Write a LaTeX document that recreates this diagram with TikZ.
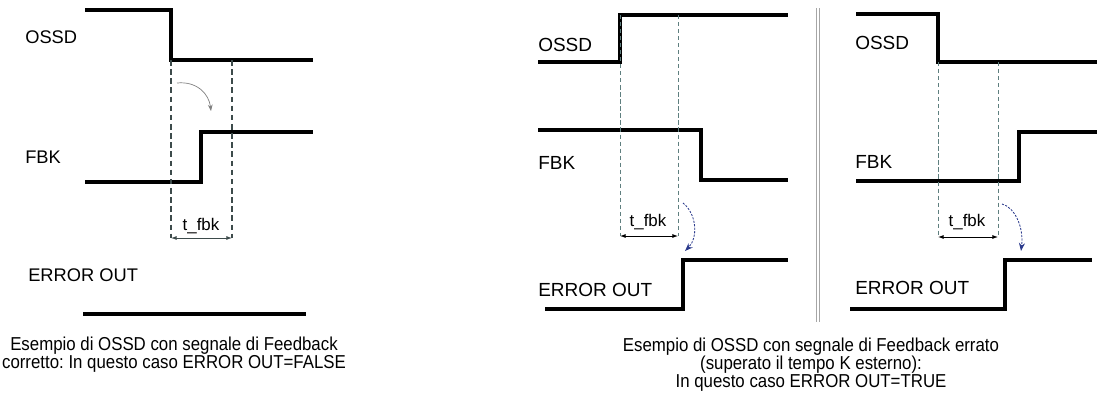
\documentclass[tikz,border=0pt]{standalone}
\usepackage{fontspec}
\setmainfont{Liberation Sans}
\newfontfamily\capfont[FakeStretch=0.9]{Liberation Sans}
\usepackage{xcolor}
\usepackage{tikz}
\usetikzlibrary{arrows.meta,positioning}
\frenchspacing

\definecolor{guidegray}{HTML}{3D4B4B}
\definecolor{guideteal}{HTML}{5F7F7F}
\definecolor{flownavy}{HTML}{2B3A8C}

\begin{document}
\begin{tikzpicture}[x=0.025cm, y=-0.025cm,
  sigline/.style={line width=2.3pt, line join=miter},
  guideA/.style={draw=guidegray, line width=0.8pt, dash pattern=on 4pt off 2.5pt},
  guideB/.style={draw=guideteal, line width=0.6pt, dash pattern=on 3pt off 2pt},
  tdim/.style={line width=0.6pt, {Latex[length=1.4mm,width=1mm]}-{Latex[length=1.4mm,width=1mm]}},
  lbl/.style={anchor=west, inner sep=0pt, font=\fontsize{13}{15}\selectfont},
  lblB/.style={anchor=west, inner sep=0pt, font=\fontsize{13.5}{16}\selectfont},
  tlbl/.style={inner sep=0pt, font=\fontsize{12}{14}\selectfont},
  caption/.style={inner sep=0pt, align=center, font=\capfont\fontsize{13.3}{12.8}\selectfont}
]
\useasboundingbox (0,0) rectangle (1097,401);

% --- corretto ---
\node[lbl] (ossd1) at (25,37) {OSSD};
\node[lbl] (fbk1) at (25,157) {FBK};
\node[lbl] (err1) at (28,275) {ERROR OUT};
\draw[sigline] (85,10) -- (171,10) -- (171,60) -- (313,60);
\draw[sigline] (85,182) -- (201,182) -- (201,132) -- (313,132);
\draw[sigline] (83,314) -- (306,314);
\coordinate (a1) at (171,238);
\coordinate (b1) at (232,238);
\draw[guideA] (171,60) -- (a1);
\draw[guideA] (232,60) -- (b1);
\draw[tdim, draw=guidegray] (a1) -- (b1);
\node[tlbl] (t1) at (201,226) {t\_fbk};
\coordinate (s1) at (177,83);
\coordinate (e1) at (211,111);
\draw[gray, line width=0.5pt, -{Stealth[length=1.6mm]}] (s1) .. controls (197,81) and (209,94) .. (e1);
\node[caption] (cap1) at (174,355) {Esempio di OSSD con segnale di Feedback\\corretto: In questo caso ERROR OUT=FALSE};

% --- errato, OSSD sale ---
\node[lblB] (ossd2) at (538,45) {OSSD};
\node[lblB] (fbk2) at (538,163) {FBK};
\node[lblB] (err2) at (538,290) {ERROR OUT};
\draw[sigline] (538,62) -- (620,62) -- (620,15) -- (788,15);
\draw[sigline] (538,130) -- (701,130) -- (701,180) -- (788,180);
\draw[sigline] (545,309) -- (683,309) -- (683,260) -- (788,260);
\coordinate (a2) at (620,236);
\coordinate (b2) at (678,236);
\draw[guideB] (620,15) -- (a2);
\draw[guideB] (678,15) -- (b2);
\draw[tdim] (a2) -- (b2);
\node[tlbl] (t2) at (648,222) {t\_fbk};
\coordinate (s2) at (683,203);
\coordinate (e2) at (685,251);
\draw[flownavy, line width=0.6pt, dash pattern=on 1.5pt off 1pt, -{Stealth[length=2mm]}] (s2) .. controls (697,214) and (698,238) .. (e2);

% --- separatore ---
\draw[gray!70, line width=0.5pt, double, double distance=1.6pt] (818,8) -- (818,322);

% --- errato, OSSD scende ---
\node[lblB] (ossd3) at (855,43) {OSSD};
\node[lblB] (fbk3) at (855,162) {FBK};
\node[lblB] (err3) at (855,288) {ERROR OUT};
\draw[sigline] (856,14) -- (938,14) -- (938,62) -- (1097,62);
\draw[sigline] (856,181) -- (1019,181) -- (1019,132) -- (1097,132);
\draw[sigline] (850,309) -- (1005,309) -- (1005,260) -- (1092,260);
\coordinate (a3) at (938,237);
\coordinate (b3) at (998,237);
\draw[guideB] (938,62) -- (a3);
\draw[guideB] (998,62) -- (b3);
\draw[tdim] (a3) -- (b3);
\node[tlbl] (t3) at (967,222) {t\_fbk};
\coordinate (s3) at (1002,204);
\coordinate (e3) at (1021,251);
\draw[flownavy, line width=0.6pt, dash pattern=on 1.5pt off 1pt, -{Stealth[length=2mm]}] (s3) .. controls (1014,207) and (1024,226) .. (e3);

\node[caption] (cap2) at (811,365) {Esempio di OSSD con segnale di Feedback errato\\(superato il tempo K esterno):\\In questo caso ERROR OUT=TRUE};
\end{tikzpicture}
\end{document}
